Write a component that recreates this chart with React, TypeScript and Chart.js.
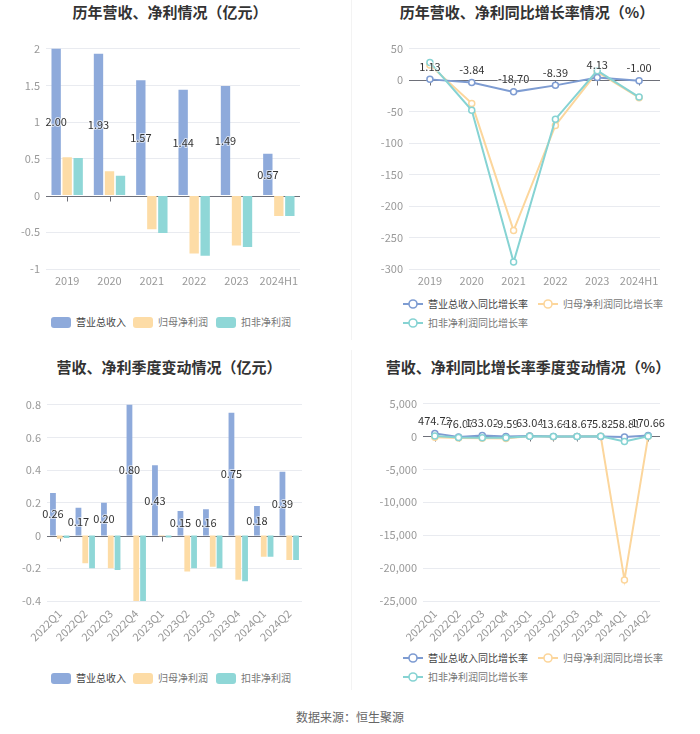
import React, { useEffect, useRef } from "react";
import { Chart, registerables } from "chart.js";

Chart.register(...registerables);

// ---------- data ----------
const yearCats = ["2019", "2020", "2021", "2022", "2023", "2024H1"];
const yearRevenue = [2.0, 1.93, 1.57, 1.44, 1.49, 0.57];
const yearNetProfit = [0.52, 0.33, -0.46, -0.79, -0.68, -0.28];
const yearDeductedProfit = [0.51, 0.27, -0.51, -0.82, -0.7, -0.28];

const yearRevenueGrowth = [1.13, -3.84, -18.7, -8.39, 4.13, -1.0];
const yearNetGrowth = [24, -37, -239, -72, 13, -28];
const yearDeductedGrowth = [28, -48, -289, -62, 15, -27];

const quarterCats = ["2022Q1", "2022Q2", "2022Q3", "2022Q4", "2023Q1", "2023Q2", "2023Q3", "2023Q4", "2024Q1", "2024Q2"];
const quarterRevenue = [0.26, 0.17, 0.2, 0.8, 0.43, 0.15, 0.16, 0.75, 0.18, 0.39];
const quarterNetProfit = [-0.02, -0.17, -0.2, -0.4, -0.005, -0.22, -0.19, -0.27, -0.13, -0.15];
const quarterDeductedProfit = [-0.015, -0.2, -0.21, -0.4, -0.012, -0.2, -0.2, -0.28, -0.13, -0.15];

const quarterRevenueGrowth = [474.72, -76.07, 133.02, -9.59, 63.04, -13.66, -18.67, -5.82, -58.81, 170.66];
const quarterNetGrowth = [-120, -210, -260, -320, 75, -29, 5, 32, -21800, 32];
const quarterDeductedGrowth = [60, -160, -190, -180, 20, 0, 5, 30, -750, 25];

const barLegend = ["营业总收入", "归母净利润", "扣非净利润"];
const lineLegend = ["营业总收入同比增长率", "归母净利润同比增长率", "扣非净利润同比增长率"];

// ---------- styles ----------
const FONT = "'Noto Sans CJK SC', 'Noto Sans', sans-serif";
const BLUE = "#8eaadb";
const YELLOW = "#fddca6";
const TEAL = "#8fd7d7";
const LBLUE = "#7e9cd2";
const LYELLOW = "#fcd69c";
const LTEAL = "#86d3d3";

const valueLabels = {
  id: "valueLabels",
  afterDatasetsDraw(chart: any, _args: any, opts: any) {
    if (!opts || !opts.mode) return;
    const ctx = chart.ctx;
    const meta = chart.getDatasetMeta(0);
    const data = chart.data.datasets[0].data as number[];
    ctx.save();
    ctx.font = `11px ${FONT}`;
    ctx.textAlign = "center";
    ctx.textBaseline = "middle";
    meta.data.forEach((el: any, i: number) => {
      const p = el.getProps(["x", "y", "base"], true);
      const cy = opts.mode === "bar" ? (p.y + p.base) / 2 : p.y - 13;
      const t = Number(data[i]).toFixed(2);
      ctx.lineWidth = 2;
      ctx.strokeStyle = "rgba(255,255,255,0.6)";
      ctx.strokeText(t, p.x, cy);
      ctx.fillStyle = "#333";
      ctx.fillText(t, p.x, cy);
    });
    ctx.restore();
  },
};

const zeroAxis = {
  id: "zeroAxis",
  beforeDatasetsDraw(chart: any) {
    const ctx = chart.ctx;
    const y0 = Math.round(chart.scales.y.getPixelForValue(0)) + 0.5;
    const { left, right } = chart.chartArea;
    const xs = chart.scales.x;
    ctx.save();
    ctx.strokeStyle = "#6e7079";
    ctx.lineWidth = 1;
    ctx.beginPath();
    ctx.moveTo(left, y0);
    ctx.lineTo(right, y0);
    for (let i = 0; i < xs.ticks.length; i++) {
      const x = Math.round(xs.getPixelForTick(i)) + 0.5;
      ctx.moveTo(x, y0);
      ctx.lineTo(x, y0 + 5);
    }
    ctx.stroke();
    ctx.restore();
  },
};

function yAxis(min: number, max: number, step: number, width: number, fmt: (v: number) => string) {
  return {
    min,
    max,
    ticks: {
      stepSize: step,
      padding: 6,
      color: "#999",
      font: { size: 11, family: FONT },
      callback: (v: any) => fmt(Math.round(Number(v) * 1000) / 1000),
    },
    grid: {
      color: (c: any) => (Math.abs(c.tick.value) < 1e-9 ? "rgba(0,0,0,0)" : "#e9ebf0"),
      drawTicks: false,
    },
    border: { display: false },
    afterFit: (s: any) => {
      s.width = width;
    },
  };
}

function xAxis(height: number, rotate: boolean) {
  return {
    offset: true,
    grid: { display: false, drawTicks: false },
    border: { display: false },
    ticks: {
      autoSkip: false,
      padding: rotate ? 6 : 5,
      color: "#999",
      font: { size: 11, family: FONT },
      minRotation: rotate ? 45 : 0,
      maxRotation: rotate ? 45 : 0,
    },
    afterFit: (s: any) => {
      s.height = height;
    },
  };
}

function barConfig(
  cats: string[],
  a: number[],
  b: number[],
  c: number[],
  y: any,
  x: any,
  padding: any,
  catPct: number,
  barPct: number
) {
  return {
    type: "bar",
    data: {
      labels: cats,
      datasets: [
        { label: barLegend[0], data: a, backgroundColor: BLUE },
        { label: barLegend[1], data: b, backgroundColor: YELLOW },
        { label: barLegend[2], data: c, backgroundColor: TEAL },
      ].map((d) => ({ ...d, categoryPercentage: catPct, barPercentage: barPct, borderWidth: 0 })),
    },
    options: {
      responsive: false,
      animation: false,
      devicePixelRatio: 1,
      layout: { padding },
      plugins: { legend: { display: false }, tooltip: { enabled: false }, valueLabels: { mode: "bar" } },
      scales: { x, y },
    },
    plugins: [zeroAxis, valueLabels],
  };
}

function lineDs(label: string, data: number[], color: string, order: number) {
  return {
    label,
    data,
    borderColor: color,
    backgroundColor: "#fff",
    pointBackgroundColor: "#fff",
    pointBorderColor: color,
    pointRadius: 3,
    pointBorderWidth: 1.5,
    borderWidth: 2,
    tension: 0,
    order,
  };
}

function lineConfig(cats: string[], a: number[], b: number[], c: number[], y: any, x: any, padding: any) {
  return {
    type: "line",
    data: {
      labels: cats,
      datasets: [
        lineDs(lineLegend[0], a, LBLUE, 1),
        lineDs(lineLegend[1], b, LYELLOW, 2),
        lineDs(lineLegend[2], c, LTEAL, 0),
      ],
    },
    options: {
      responsive: false,
      animation: false,
      devicePixelRatio: 1,
      layout: { padding },
      plugins: { legend: { display: false }, tooltip: { enabled: false }, valueLabels: { mode: "line" } },
      scales: { x, y },
    },
    plugins: [zeroAxis, valueLabels],
  };
}

function ChartBox(props: { config: any; left: number; top: number; width: number; height: number }) {
  const ref = useRef<HTMLCanvasElement>(null);
  useEffect(() => {
    const chart = new Chart(ref.current as HTMLCanvasElement, props.config);
    return () => chart.destroy();
  }, []);
  return (
    <canvas
      ref={ref}
      width={props.width}
      height={props.height}
      style={{ position: "absolute", left: props.left, top: props.top, width: props.width, height: props.height }}
    />
  );
}

function Title(props: { text: string; center: number; top: number }) {
  return (
    <div
      style={{
        position: "absolute",
        left: props.center - 170,
        top: props.top,
        width: 340,
        textAlign: "center",
        font: `bold 15px ${FONT}`,
        color: "#333",
        lineHeight: "20px",
        whiteSpace: "nowrap",
      }}
    >
      {props.text}
    </div>
  );
}

function BarLegendItem(props: { left: number; top: number; color: string; text: string; dark: boolean }) {
  return (
    <div style={{ position: "absolute", left: props.left, top: props.top, height: 12, display: "flex", alignItems: "center" }}>
      <span style={{ display: "inline-block", width: 20, height: 11, borderRadius: 3, background: props.color }} />
      <span style={{ marginLeft: 5, font: `10px ${FONT}`, color: props.dark ? "#444" : "#777", lineHeight: "12px" }}>{props.text}</span>
    </div>
  );
}

function LineLegendItem(props: { left: number; top: number; color: string; text: string; dark: boolean }) {
  return (
    <div style={{ position: "absolute", left: props.left, top: props.top, height: 12, display: "flex", alignItems: "center" }}>
      <svg width="20" height="12" style={{ display: "block" }}>
        <line x1="0" y1="6" x2="20" y2="6" stroke={props.color} strokeWidth="2" />
        <circle cx="10" cy="6" r="4" fill="#fff" stroke={props.color} strokeWidth="1.6" />
      </svg>
      <span style={{ marginLeft: 5, font: `10px ${FONT}`, color: props.dark ? "#444" : "#777", lineHeight: "12px" }}>{props.text}</span>
    </div>
  );
}

const fmtPlain = (v: number) => String(v);
const fmtComma = (v: number) => v.toLocaleString("en-US");

export default function App() {
  const pad = { top: 0, right: 20, left: 0, bottom: 0 };
  const cfgTL = barConfig(
    yearCats,
    yearRevenue,
    yearNetProfit,
    yearDeductedProfit,
    yAxis(-1, 2, 0.5, 46, fmtPlain),
    xAxis(21, false),
    pad,
    0.78,
    0.85
  );
  const cfgTR = lineConfig(
    yearCats,
    yearRevenueGrowth,
    yearNetGrowth,
    yearDeductedGrowth,
    yAxis(-300, 50, 50, 59, fmtPlain),
    xAxis(21, false),
    pad
  );
  const cfgBL = barConfig(
    quarterCats,
    quarterRevenue,
    quarterNetProfit,
    quarterDeductedProfit,
    yAxis(-0.4, 0.8, 0.2, 47, fmtPlain),
    xAxis(44, true),
    { top: 0, right: 18, left: 0, bottom: 0 },
    0.8,
    0.85
  );
  const cfgBR = lineConfig(
    quarterCats,
    quarterRevenueGrowth,
    quarterNetGrowth,
    quarterDeductedGrowth,
    yAxis(-25000, 5000, 5000, 73, fmtComma),
    xAxis(44, true),
    pad
  );

  return (
    <div style={{ position: "absolute", left: 0, top: 0, width: 700, height: 734, background: "#fff", overflow: "hidden" }}>
      <div style={{ position: "absolute", left: 351, top: 0, width: 1, height: 340, background: "#f3f3f3" }} />
      <div style={{ position: "absolute", left: 351, top: 350, width: 1, height: 340, background: "#f3f3f3" }} />

      <Title text="历年营收、净利情况（亿元）" center={170} top={2} />
      <Title text="历年营收、净利同比增长率情况（%）" center={527} top={2} />
      <Title text="营收、净利季度变动情况（亿元）" center={169} top={357} />
      <Title text="营收、净利同比增长率季度变动情况（%）" center={528} top={357} />

      <ChartBox config={cfgTL} left={0} top={36} width={320} height={254} />
      <ChartBox config={cfgTR} left={350} top={36} width={330} height={254} />
      <ChartBox config={cfgBL} left={0} top={392} width={320} height={253} />
      <ChartBox config={cfgBR} left={350} top={391} width={330} height={254} />

      <BarLegendItem left={51} top={316} color={BLUE} text={barLegend[0]} dark={true} />
      <BarLegendItem left={133} top={316} color={YELLOW} text={barLegend[1]} dark={false} />
      <BarLegendItem left={216} top={316} color={TEAL} text={barLegend[2]} dark={false} />

      <LineLegendItem left={403} top={298} color={LBLUE} text={lineLegend[0]} dark={true} />
      <LineLegendItem left={538} top={298} color={LYELLOW} text={lineLegend[1]} dark={false} />
      <LineLegendItem left={403} top={317} color={LTEAL} text={lineLegend[2]} dark={false} />

      <BarLegendItem left={51} top={672} color={BLUE} text={barLegend[0]} dark={true} />
      <BarLegendItem left={133} top={672} color={YELLOW} text={barLegend[1]} dark={false} />
      <BarLegendItem left={216} top={672} color={TEAL} text={barLegend[2]} dark={false} />

      <LineLegendItem left={403} top={652} color={LBLUE} text={lineLegend[0]} dark={true} />
      <LineLegendItem left={538} top={652} color={LYELLOW} text={lineLegend[1]} dark={false} />
      <LineLegendItem left={403} top={671} color={LTEAL} text={lineLegend[2]} dark={false} />

      <div
        style={{
          position: "absolute",
          left: 0,
          top: 709,
          width: 700,
          textAlign: "center",
          font: `12px ${FONT}`,
          color: "#666",
          lineHeight: "16px",
        }}
      >
        数据来源：恒生聚源
      </div>
    </div>
  );
}
